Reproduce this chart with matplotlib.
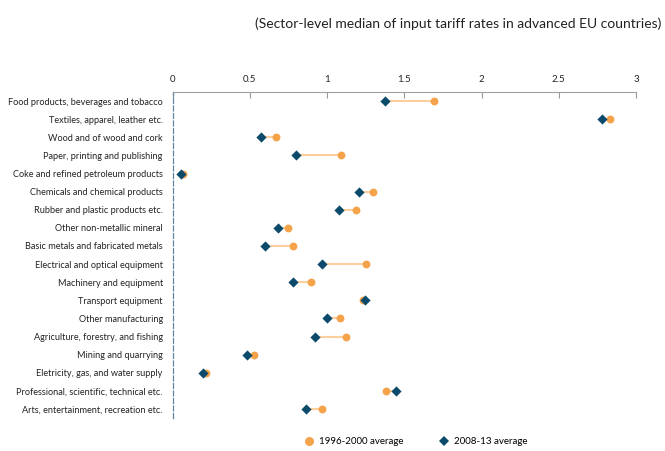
import matplotlib
matplotlib.use("Agg")
import matplotlib.pyplot as plt
from matplotlib.lines import Line2D

sectors = [
    "Food products, beverages and tobacco",
    "Textiles, apparel, leather etc.",
    "Wood and of wood and cork",
    "Paper, printing and publishing",
    "Coke and refined petroleum products",
    "Chemicals and chemical products",
    "Rubber and plastic products etc.",
    "Other non-metallic mineral",
    "Basic metals and fabricated metals",
    "Electrical and optical equipment",
    "Machinery and equipment",
    "Transport equipment",
    "Other manufacturing",
    "Agriculture, forestry, and fishing",
    "Mining and quarrying",
    "Eletricity, gas, and water supply",
    "Professional, scientific, technical etc.",
    "Arts, entertainment, recreation etc.",
]
avg_1996_2000 = [1.69, 2.83, 0.67, 1.09, 0.068, 1.295, 1.19, 0.745, 0.78, 1.255,
                 0.895, 1.23, 1.085, 1.12, 0.525, 0.22, 1.385, 0.97]
avg_2008_13 = [1.375, 2.78, 0.57, 0.80, 0.055, 1.21, 1.075, 0.685, 0.60, 0.965,
               0.78, 1.245, 1.0, 0.925, 0.485, 0.195, 1.445, 0.865]
x_ticks = [0, 0.5, 1, 1.5, 2, 2.5, 3]
x_ticklabels = ["0", "0.5", "1", "1.5", "2", "2.5", "3"]

ORANGE = "#f5a34a"
LINE = "#fccf9c"
NAVY = "#0b4a6b"
FONT = "Lato"

fig = plt.figure(figsize=(6.65, 4.51), dpi=100)
ax = fig.add_axes([0.2594, 0.073, 0.697, 0.723])

ys = list(range(len(sectors)))
for y, a, b in zip(ys, avg_1996_2000, avg_2008_13):
    ax.plot([a, b], [y, y], color=LINE, lw=1.5, zorder=1)
ax.scatter(avg_1996_2000, ys, s=32, color=ORANGE, marker="o", zorder=2, linewidths=0)
ax.scatter(avg_2008_13, ys, s=27, color=NAVY, marker="D", zorder=3, linewidths=0)

ax.set_xlim(0, 3)
ax.set_ylim(len(sectors) - 0.5, -0.5)
ax.xaxis.tick_top()
ax.set_xticks(x_ticks)
ax.set_xticklabels(x_ticklabels, fontsize=7, family=FONT, color="#222222")
ax.tick_params(axis="x", direction="in", length=4, color="#999999", pad=6)
ax.set_yticks(ys)
ax.set_yticklabels(sectors, fontsize=6.6, family=FONT, color="#222222")
ax.tick_params(axis="y", length=0, pad=7)

for side in ("right", "bottom"):
    ax.spines[side].set_visible(False)
ax.spines["top"].set_color("#a0a0a0")
ax.spines["top"].set_linewidth(0.8)
ax.spines["left"].set_color("#5f87a3")
ax.spines["left"].set_linestyle((0, (4, 2)))
ax.spines["left"].set_linewidth(0.9)

fig.text(0.995, 0.948, "(Sector-level median of input tariff rates in advanced EU countries)",
         ha="right", va="center", fontsize=10, family=FONT, color="#222222")

handles = [
    Line2D([], [], marker="o", color="none", markerfacecolor=ORANGE,
           markeredgewidth=0, markersize=6.5, label="1996-2000 average"),
    Line2D([], [], marker="D", color="none", markerfacecolor=NAVY,
           markeredgewidth=0, markersize=5, label="2008-13 average"),
]
fig.legend(handles=handles, loc="center", bbox_to_anchor=(0.625, 0.02), ncol=2,
           frameon=False, prop={"family": FONT, "size": 7}, columnspacing=3.6,
           handletextpad=0.4, handlelength=1.2)

fig.savefig("out.png", dpi=100)
